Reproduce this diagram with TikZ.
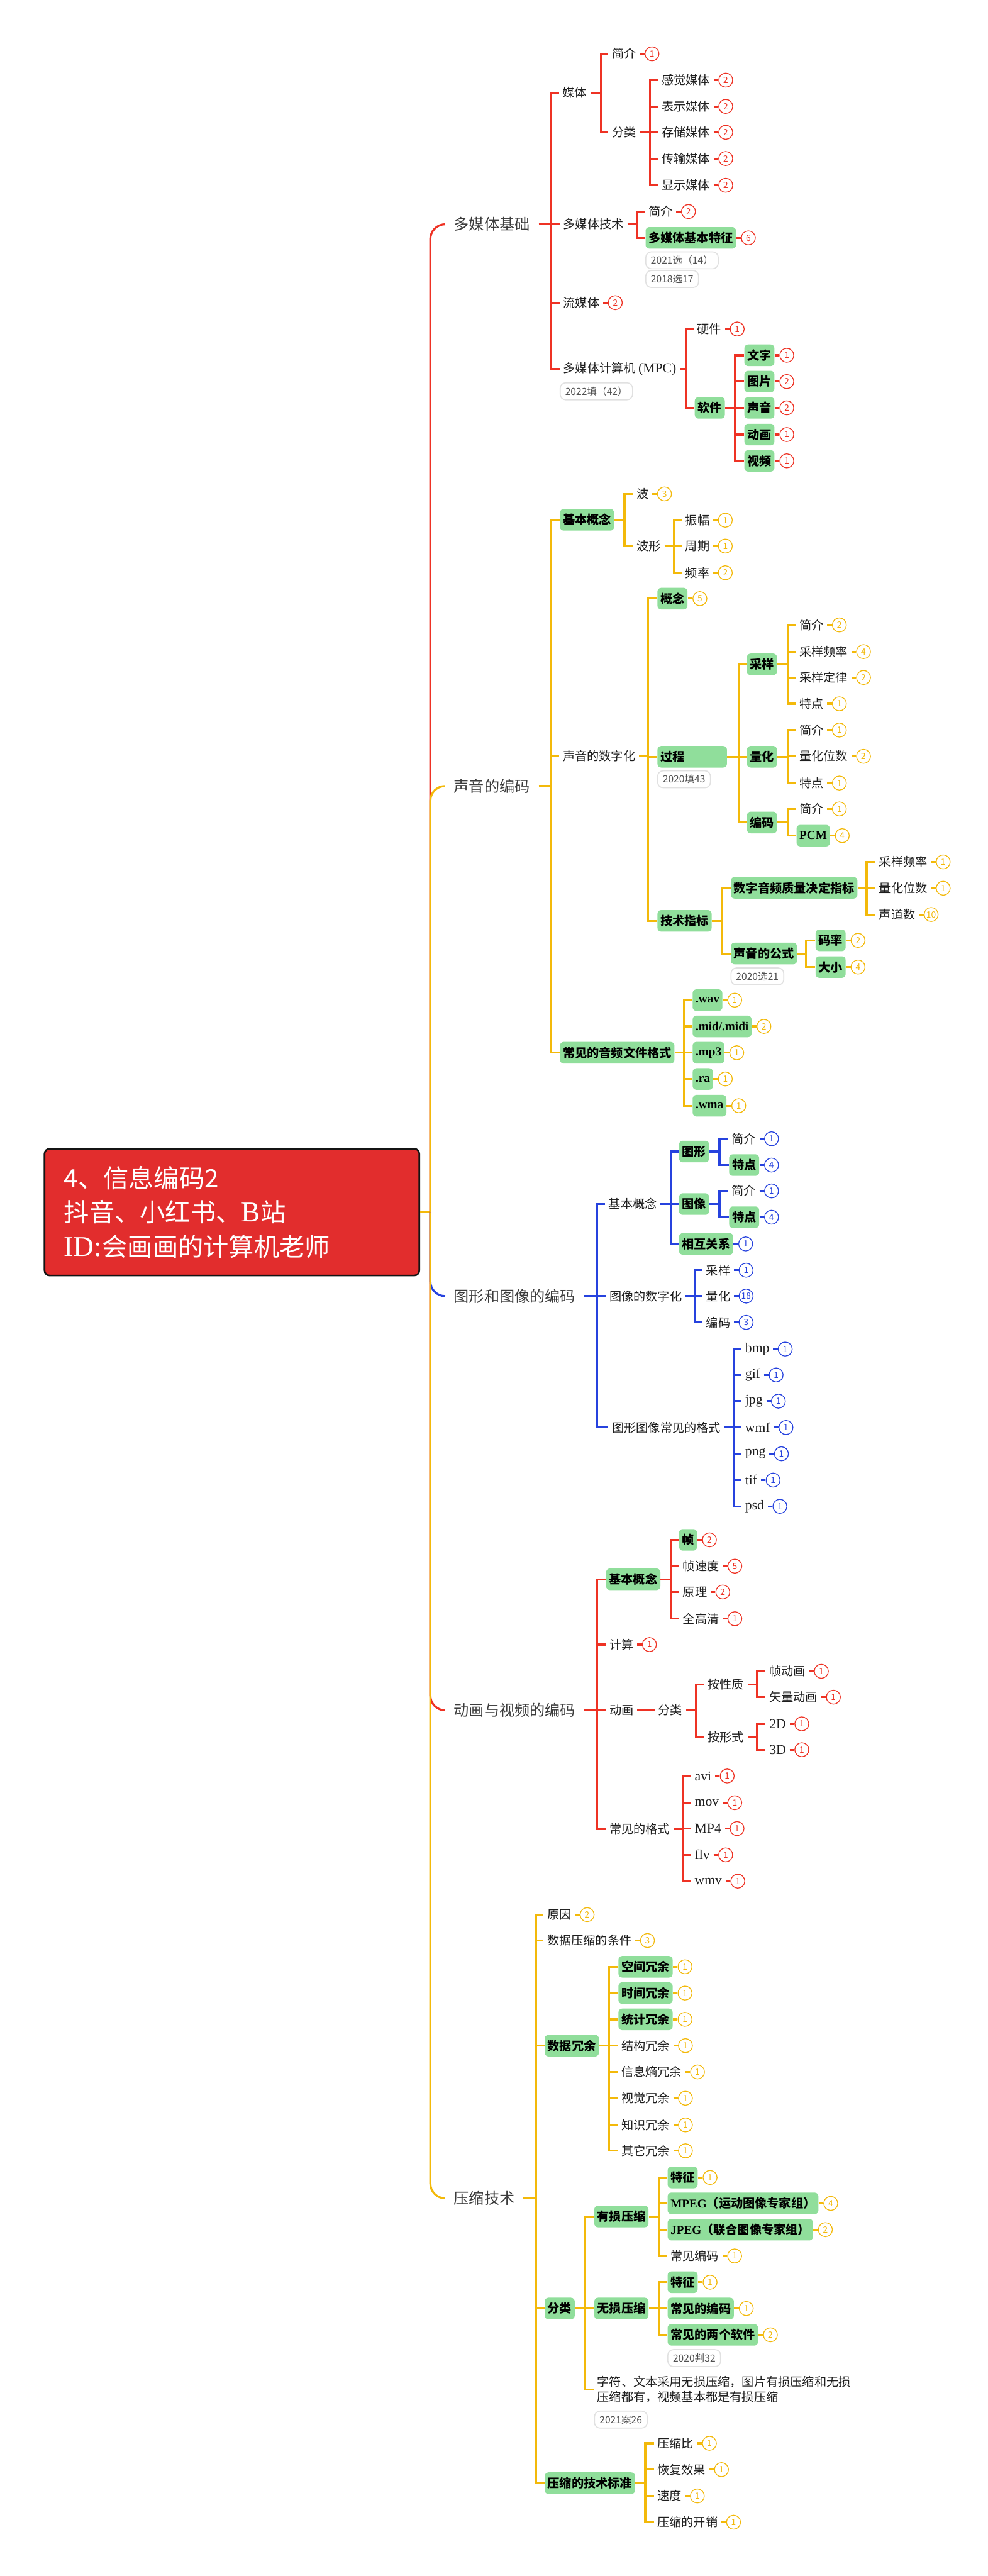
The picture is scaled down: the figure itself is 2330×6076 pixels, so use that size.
\documentclass[tikz,border=0pt]{standalone}
\usepackage{fontspec}
\setmainfont{Noto Sans CJK SC}
\newfontfamily\lat{Liberation Serif}[Scale=1.13]
\newfontfamily\latg{Liberation Serif}
\usetikzlibrary{positioning, calc}
\definecolor{mred}{RGB}{238,50,36}
\definecolor{myel}{RGB}{243,185,10}
\definecolor{mblue}{RGB}{38,66,222}
\definecolor{leafgreen}{RGB}{144,222,155}
\definecolor{rootred}{RGB}{226,45,45}
\definecolor{rootline}{RGB}{20,20,20}
\definecolor{ink}{RGB}{30,30,30}
\definecolor{topicink}{RGB}{60,60,60}
\definecolor{tagline}{RGB}{225,225,225}
\definecolor{tagink}{RGB}{80,80,80}

\tikzset{
  plain/.style={anchor=west, inner xsep=0.8mm, inner ysep=0.6mm, text=ink,
    font=\fontsize{8.1}{10.2}\selectfont},
  leaf/.style={anchor=west, fill=leafgreen, rounded corners=0.9mm, inner xsep=0.7mm,
    inner ysep=0.5mm, minimum height=5.1mm, text=black,
    font=\fontsize{8.1}{10.2}\selectfont\bfseries},
  topic/.style={anchor=west, inner xsep=2mm, text=topicink,
    font=\fontsize{10.2}{12}\selectfont},
  rootbox/.style={draw=rootline, line width=1.1pt, fill=rootred, rounded corners=1.2mm,
    text=white, text width=79.2mm, align=left, inner xsep=4.6mm, minimum height=29.9mm,
    font=\fontsize{17}{23}\selectfont},
  badge/.style={circle, draw=\bc, text=\bc, fill=white, line width=0.55pt,
    minimum size=3.3mm, inner sep=0pt, font=\fontsize{5.8}{6}\selectfont},
  tag/.style={anchor=west, draw=tagline, fill=white, rounded corners=1.3mm, line width=0.7pt,
    minimum height=4mm, inner xsep=1.2mm, inner ysep=0pt, text=tagink,
    font=\fontsize{6.6}{7}\selectfont},
  conn/.style={draw=#1, line width=1.35pt},
  spine/.style={draw=#1, line width=1.35pt, rounded corners=3.5mm},
}

% badge with its short stub
\newcommand\bdg[2]{\node[badge, right=1.1mm of #1] (#1-b) {#2}; \draw[conn=\bc] (#1) -- (#1-b);}
% parent -> vertical at x=#2 -> children
\newcommand\fork[3]{%
  \draw[conn=\bc] (#1.east) -- (#2,0 |- #1.east);
  \foreach \ch in {#3}{\draw[conn=\bc] (#2,0 |- #1.east) |- (\ch.west);}
}

\begin{document}
\begin{tikzpicture}[x=0.1mm, y=-0.1mm]
\useasboundingbox (0,0) rectangle (2330,6076);

% root
\node[rootbox] (root) at (547,2859) {4、信息编码2\\抖音、小红书、{\lat B}站\\{\lat ID:}会画画的计算机老师};

% main topics
\node[topic] (t1) at (1050,529) {多媒体基础};
\node[topic] (t2) at (1050,1854) {声音的编码};
\node[topic] (t3) at (1050,3057) {图形和图像的编码};
\node[topic] (t4) at (1050,4034) {动画与视频的编码};
\node[topic] (t5) at (1050,5185) {压缩技术};

\draw[conn=myel] (root.east) -- (1015,0 |- root.east);
\foreach \t/\col in {t1/mred, t2/myel, t3/mblue, t4/mred, t5/myel}
  \draw[spine=\col] (1015,0 |- root.east) -- (1015,0 |- \t.west) -- (\t.west);

% ---- 多媒体基础
\def\bc{mred}
\node[plain] (a) at (1318,219) {媒体};
\node[plain] (a1) at (1435,127) {简介}; \bdg{a1}{1}
\node[plain] (a2) at (1435,312) {分类};
\foreach \n/\txt/\y in {1/感觉媒体/189, 2/表示媒体/251, 3/存储媒体/312, 4/传输媒体/374, 5/显示媒体/437}{
  \node[plain] (a2\n) at (1552,\y) {\txt}; \bdg{a2\n}{2}
}
\node[plain] (b) at (1320,529) {多媒体技术};
\node[plain] (b1) at (1521,499) {简介}; \bdg{b1}{2}
\node[leaf] (b2) at (1522,561) {多媒体基本特征}; \bdg{b2}{6}
\node[tag] (b2x) at (1522,614) {2021选（14）};
\node[tag] (b2y) at (1522,658) {2018选17};
\node[plain] (c) at (1320,714) {流媒体}; \bdg{c}{2}
\node[plain] (d) at (1320,870) {多媒体计算机 {\lat (MPC)}};
\node[tag] (dx) at (1320,923) {2022填（42）};
\node[plain] (d1) at (1636,776) {硬件}; \bdg{d1}{1}
\node[leaf] (d2) at (1638,962) {软件};
\foreach \n/\txt/\y/\k in {1/文字/838/1, 2/图片/900/2, 3/声音/962/2, 4/动画/1025/1, 5/视频/1087/1}{
  \node[leaf] (d2\n) at (1755,\y) {\txt}; \bdg{d2\n}{\k}
}
\fork{t1}{1300}{a,b,c,d}
\fork{a}{1418}{a1,a2}
\fork{a2}{1533}{a21,a22,a23,a24,a25}
\fork{b}{1503}{b1,b2}
\fork{d}{1618}{d1,d2}
\fork{d2}{1733}{d21,d22,d23,d24,d25}

% ---- 声音的编码
\def\bc{myel}
\node[leaf] (e) at (1320,1226) {基本概念};
\node[plain] (e1) at (1493,1165) {波}; \bdg{e1}{3}
\node[plain] (e2) at (1493,1288) {波形};
\foreach \n/\txt/\y/\k in {1/振幅/1227/1, 2/周期/1288/1, 3/频率/1351/2}{
  \node[plain] (e2\n) at (1608,\y) {\txt}; \bdg{e2\n}{\k}
}
\node[plain] (f) at (1319,1784) {声音的数字化};
\node[leaf] (f1) at (1550,1412) {概念}; \bdg{f1}{5}
\node[leaf, text width=15mm, align=left] (f2) at (1550,1785) {过程};
\node[tag] (f2x) at (1550,1838) {2020填43};
\node[leaf] (f21) at (1761,1567) {采样};
\foreach \n/\txt/\y/\k in {1/简介/1474/2, 2/采样频率/1537/4, 3/采样定律/1598/2, 4/特点/1660/1}{
  \node[plain] (f21\n) at (1877,\y) {\txt}; \bdg{f21\n}{\k}
}
\node[leaf] (f22) at (1761,1785) {量化};
\foreach \n/\txt/\y/\k in {1/简介/1722/1, 2/量化位数/1784/2, 3/特点/1847/1}{
  \node[plain] (f22\n) at (1877,\y) {\txt}; \bdg{f22\n}{\k}
}
\node[leaf] (f23) at (1761,1940) {编码};
\node[plain] (f231) at (1877,1908) {简介}; \bdg{f231}{1}
\node[leaf] (f232) at (1878,1971) {\latg PCM}; \bdg{f232}{4}
\node[leaf] (f3) at (1550,2172) {技术指标};
\node[leaf] (f31) at (1723,2094) {数字音频质量决定指标};
\foreach \n/\txt/\y/\k in {1/采样频率/2033/1, 2/量化位数/2095/1, 3/声道数/2157/10}{
  \node[plain] (f31\n) at (2065,\y) {\txt}; \bdg{f31\n}{\k}
}
\node[leaf] (f32) at (1723,2249) {声音的公式};
\node[tag] (f32x) at (1723,2303) {2020选21};
\node[leaf] (f321) at (1923,2218) {码率}; \bdg{f321}{2}
\node[leaf] (f322) at (1923,2281) {大小}; \bdg{f322}{4}
\node[leaf] (g) at (1320,2483) {常见的音频文件格式};
\foreach \n/\txt/\y/\k in {1/.wav/2359/1, 2/{.mid/.midi}/2421/2, 3/.mp3/2483/1, 4/.ra/2545/1, 5/.wma/2608/1}{
  \node[leaf] (g\n) at (1633,\y) {\latg\txt}; \bdg{g\n}{\k}
}
\fork{t2}{1300}{e,f,g}
\fork{e}{1473}{e1,e2}
\fork{e2}{1590}{e21,e22,e23}
\fork{f}{1529}{f1,f2,f3}
\fork{f2}{1742}{f21,f22,f23}
\fork{f21}{1859}{f211,f212,f213,f214}
\fork{f22}{1859}{f221,f222,f223}
\fork{f23}{1859}{f231,f232}
\fork{f3}{1703}{f31,f32}
\fork{f31}{2044}{f311,f312,f313}
\fork{f32}{1901}{f321,f322}
\fork{g}{1614}{g1,g2,g3,g4,g5}

% ---- 图形和图像的编码
\def\bc{mblue}
\node[plain] (h) at (1427,2840) {基本概念};
\node[leaf] (h1) at (1601,2716) {图形};
\node[plain] (h11) at (1717,2686) {简介}; \bdg{h11}{1}
\node[leaf] (h12) at (1719,2748) {特点}; \bdg{h12}{4}
\node[leaf] (h2) at (1601,2840) {图像};
\node[plain] (h21) at (1717,2809) {简介}; \bdg{h21}{1}
\node[leaf] (h22) at (1719,2871) {特点}; \bdg{h22}{4}
\node[leaf] (h3) at (1601,2934) {相互关系}; \bdg{h3}{1}
\node[plain] (i) at (1429,3057) {图像的数字化};
\foreach \n/\txt/\y/\k in {1/采样/2996/1, 2/量化/3057/18, 3/编码/3119/3}{
  \node[plain] (i\n) at (1657,\y) {\txt}; \bdg{i\n}{\k}
}
\node[plain] (j) at (1435,3367) {图形图像常见的格式};
\foreach \n/\txt/\y in {1/bmp/3182, 2/gif/3243, 3/jpg/3305, 4/wmf/3367, 5/png/3429, 6/tif/3491, 7/psd/3553}{
  \node[plain] (j\n) at (1749,\y) {\lat\txt}; \bdg{j\n}{1}
}
\fork{t3}{1409}{h,i,j}
\fork{h}{1582}{h1,h2,h3}
\fork{h1}{1697}{h11,h12}
\fork{h2}{1697}{h21,h22}
\fork{i}{1638}{i1,i2,i3}
\fork{j}{1732}{j1,j2,j3,j4,j5,j6,j7}

% ---- 动画与视频的编码
\def\bc{mred}
\node[leaf] (k) at (1429,3725) {基本概念};
\node[leaf] (k1) at (1601,3632) {帧}; \bdg{k1}{2}
\foreach \n/\txt/\y/\k in {2/帧速度/3694/5, 3/原理/3755/2, 4/全高清/3818/1}{
  \node[plain] (k\n) at (1602,\y) {\txt}; \bdg{k\n}{\k}
}
\node[plain] (l) at (1429,3879) {计算}; \bdg{l}{1}
\node[plain] (m) at (1429,4034) {动画};
\node[plain] (m1) at (1544,4034) {分类};
\node[plain] (m11) at (1661,3973) {按性质};
\node[plain] (m111) at (1806,3942) {帧动画}; \bdg{m111}{1}
\node[plain] (m112) at (1806,4003) {矢量动画}; \bdg{m112}{1}
\node[plain] (m12) at (1661,4097) {按形式};
\node[plain] (m121) at (1806,4066) {\lat 2D}; \bdg{m121}{1}
\node[plain] (m122) at (1806,4127) {\lat 3D}; \bdg{m122}{1}
\node[plain] (n) at (1429,4314) {常见的格式};
\foreach \q/\txt/\y in {1/avi/4189, 2/mov/4252, 3/MP4/4313, 4/flv/4375, 5/wmv/4437}{
  \node[plain] (n\q) at (1630,\y) {\lat\txt}; \bdg{n\q}{1}
}
\fork{t4}{1409}{k,l,m,n}
\fork{k}{1582}{k1,k2,k3,k4}
\draw[conn=\bc] (m) -- (m1);
\fork{m1}{1641}{m11,m12}
\fork{m11}{1786}{m111,m112}
\fork{m12}{1786}{m121,m122}
\fork{n}{1610}{n1,n2,n3,n4,n5}

% ---- 压缩技术
\def\bc{myel}
\node[plain] (o) at (1282,4516) {原因}; \bdg{o}{2}
\node[plain] (p) at (1282,4577) {数据压缩的条件}; \bdg{p}{3}
\node[leaf] (q) at (1284,4825) {数据冗余};
\foreach \n/\txt/\y in {1/空间冗余/4639, 2/时间冗余/4701, 3/统计冗余/4763}{
  \node[leaf] (q\n) at (1458,\y) {\txt}; \bdg{q\n}{1}
}
\foreach \n/\txt/\y in {4/结构冗余/4825, 5/信息熵冗余/4887, 6/视觉冗余/4949, 7/知识冗余/5012, 8/其它冗余/5073}{
  \node[plain] (q\n) at (1457,\y) {\txt}; \bdg{q\n}{1}
}
\node[leaf] (r) at (1284,5445) {分类};
\node[leaf] (r1) at (1401,5228) {有损压缩};
\node[leaf] (r11) at (1574,5136) {特征}; \bdg{r11}{1}
\node[leaf] (r12) at (1574,5197) {{\latg MPEG}（运动图像专家组）}; \bdg{r12}{4}
\node[leaf] (r13) at (1574,5259) {{\latg JPEG}（联合图像专家组）}; \bdg{r13}{2}
\node[plain] (r14) at (1573,5321) {常见编码}; \bdg{r14}{1}
\node[leaf] (r2) at (1401,5445) {无损压缩};
\node[leaf] (r21) at (1574,5383) {特征}; \bdg{r21}{1}
\node[leaf] (r22) at (1574,5445) {常见的编码}; \bdg{r22}{1}
\node[leaf] (r23) at (1574,5507) {常见的两个软件}; \bdg{r23}{2}
\node[tag] (r23x) at (1574,5562) {2020判32};
\node[plain, align=left] (r3) at (1400,5636) {字符、文本采用无损压缩，图片有损压缩和无损\\压缩都有，视频基本都是有损压缩};
\node[tag] (r3x) at (1401,5707) {2021案26};
\node[leaf] (s) at (1284,5857) {压缩的技术标准};
\foreach \n/\txt/\y in {1/压缩比/5763, 2/恢复效果/5825, 3/速度/5887, 4/压缩的开销/5949}{
  \node[plain] (s\n) at (1542,\y) {\txt}; \bdg{s\n}{1}
}
\fork{t5}{1264}{o,p,q,r,s}
\fork{q}{1437}{q1,q2,q3,q4,q5,q6,q7,q8}
\fork{r}{1379}{r1,r2,r3}
\fork{r1}{1554}{r11,r12,r13,r14}
\fork{r2}{1554}{r21,r22,r23}
\fork{s}{1522}{s1,s2,s3,s4}
\end{tikzpicture}
\end{document}
